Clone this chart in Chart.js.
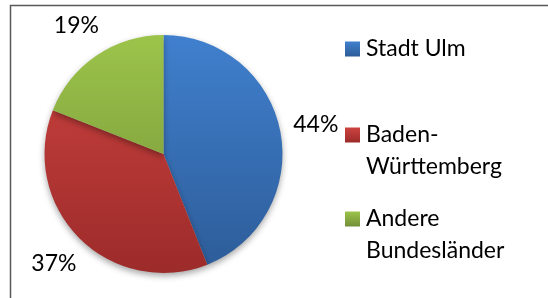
<!DOCTYPE html>
<html>
<head>
<meta charset="utf-8">
<script src="https://cdn.jsdelivr.net/npm/chart.js@4.4.1/dist/chart.umd.min.js"></script>
<style>
html,body{margin:0;padding:0;background:#fff;}
#wrap{position:relative;width:548px;height:298px;}
</style>
</head>
<body>
<div id="wrap"><canvas id="c" width="548" height="298"></canvas></div>
<script>
const categories = ["Stadt Ulm", "Baden-Württemberg", "Andere Bundesländer"];
const legendLines = [["Stadt Ulm"], ["Baden-", "Württemberg"], ["Andere", "Bundesländer"]];
const values = [44, 37, 19];
const topColors = ["#4080CE", "#CD4340", "#9CC44A"];
const bottomColors = ["#2D5C98", "#9C2B2A", "#738F38"];
const FONT = "Lato, 'Open Sans', sans-serif";

function sliceGradient(ctx) {
  const chart = ctx.chart;
  const area = chart.chartArea;
  if (!area) return topColors[ctx.dataIndex];
  const g = chart.ctx.createLinearGradient(0, area.top, 0, area.bottom);
  g.addColorStop(0, topColors[ctx.dataIndex]);
  g.addColorStop(1, bottomColors[ctx.dataIndex]);
  return g;
}

const framePlugin = {
  id: 'frame',
  beforeDraw(chart) {
    const c = chart.ctx;
    c.save();
    c.strokeStyle = '#595959';
    c.lineWidth = 1.5;
    c.strokeRect(10.5, 5.5, 700, 500);
    c.restore();
  }
};

const shadowPlugin = {
  id: 'shadow',
  beforeDatasetsDraw(chart) {
    const c = chart.ctx;
    c.save();
    c.shadowColor = 'rgba(0,0,0,0.35)';
    c.shadowBlur = 6;
    c.shadowOffsetY = 3;
  },
  afterDatasetsDraw(chart) {
    chart.ctx.restore();
  }
};

const labelPlugin = {
  id: 'pctLabels',
  afterDatasetsDraw(chart) {
    const c = chart.ctx;
    const meta = chart.getDatasetMeta(0);
    const total = values.reduce((a, b) => a + b, 0);
    c.save();
    c.font = "23px " + FONT;
    c.fillStyle = '#000';
    c.textAlign = 'center';
    c.textBaseline = 'middle';
    meta.data.forEach((arc, i) => {
      const p = arc.getProps(['x', 'y', 'startAngle', 'endAngle', 'outerRadius'], true);
      const mid = (p.startAngle + p.endAngle) / 2;
      const d = p.outerRadius + 36;
      const txt = Math.round(values[i] / total * 100) + '%';
      c.fillText(txt, p.x + Math.cos(mid) * d, p.y + Math.sin(mid) * d);
    });
    c.restore();
  }
};

const legendPlugin = {
  id: 'sideLegend',
  afterDraw(chart) {
    const c = chart.ctx;
    c.save();
    const startY = [49, 135, 219];
    const lineH = 32;
    c.font = "23px " + FONT;
    c.textBaseline = 'middle';
    c.textAlign = 'left';
    categories.forEach((cat, i) => {
      const y = startY[i];
      const g = c.createLinearGradient(0, y - 7.5, 0, y + 7.5);
      g.addColorStop(0, topColors[i]);
      g.addColorStop(1, bottomColors[i]);
      c.fillStyle = g;
      c.fillRect(345, y - 7.5, 15, 15);
      c.fillStyle = '#000';
      legendLines[i].forEach((ln, k) => {
        c.fillText(ln, 366, y + k * lineH);
      });
    });
    c.restore();
  }
};

new Chart(document.getElementById('c'), {
  type: 'pie',
  data: {
    labels: categories,
    datasets: [{
      data: values,
      backgroundColor: sliceGradient,
      borderWidth: 0
    }]
  },
  options: {
    responsive: false,
    animation: false,
    layout: { padding: { left: 44, right: 265, top: 35, bottom: 25 } },
    plugins: {
      legend: { display: false },
      tooltip: { enabled: false }
    }
  },
  plugins: [framePlugin, shadowPlugin, labelPlugin, legendPlugin]
});
</script>
</body>
</html>
